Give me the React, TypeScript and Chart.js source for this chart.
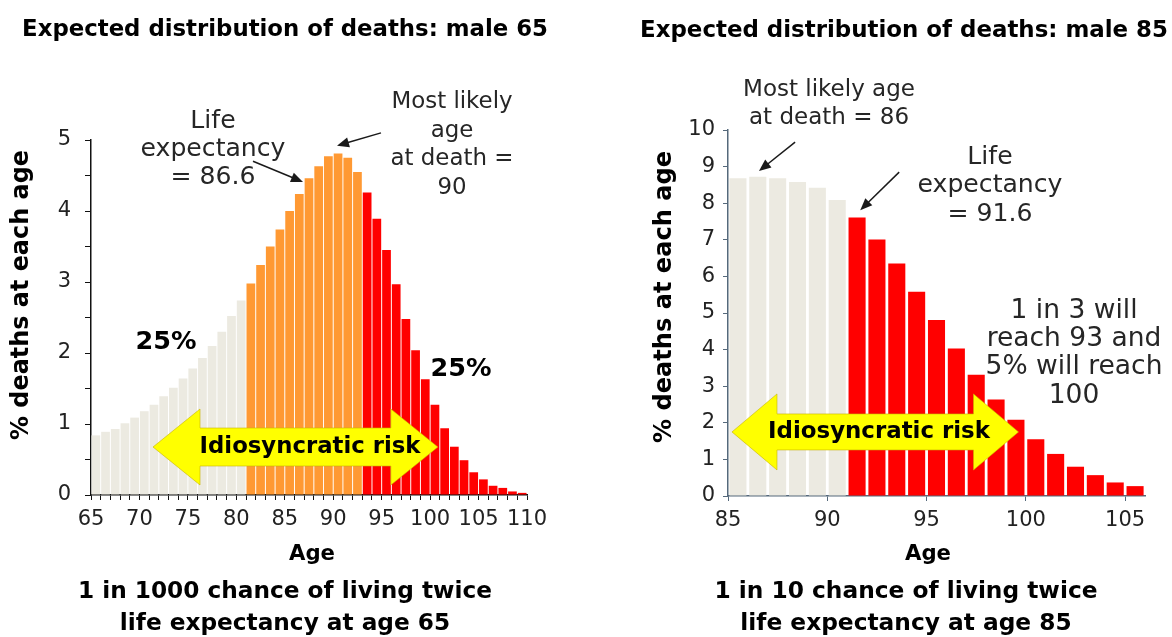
import React, { useEffect, useRef } from 'react';
import { Chart, registerables } from 'chart.js';
Chart.register(...registerables);

const FONT = '"DejaVu Sans", sans-serif';
const H = 637;

// ---------- Left chart: male 65 ----------
const leftAges = [65, 66, 67, 68, 69, 70, 71, 72, 73, 74, 75, 76, 77, 78, 79, 80, 81, 82, 83, 84, 85, 86, 87, 88, 89, 90, 91, 92, 93, 94, 95, 96, 97, 98, 99, 100, 101, 102, 103, 104, 105, 106, 107, 108, 109];
const leftDeaths = [0.84, 0.89, 0.93, 1.01, 1.09, 1.18, 1.27, 1.39, 1.51, 1.64, 1.78, 1.93, 2.1, 2.3, 2.52, 2.74, 2.98, 3.24, 3.5, 3.74, 4.0, 4.24, 4.46, 4.63, 4.77, 4.81, 4.75, 4.55, 4.26, 3.89, 3.45, 2.97, 2.48, 2.04, 1.63, 1.27, 0.94, 0.68, 0.49, 0.32, 0.22, 0.13, 0.1, 0.05, 0.03];
const leftAgeLabels = [65, 70, 75, 80, 85, 90, 95, 100, 105, 110];
const leftValueLabels = [0, 1, 2, 3, 4, 5];
const leftMiddleFromAge = 81;
const leftTopFromAge = 93;

// ---------- Right chart: male 85 ----------
const rightAges = [85, 86, 87, 88, 89, 90, 91, 92, 93, 94, 95, 96, 97, 98, 99, 100, 101, 102, 103, 104, 105];
const rightDeaths = [8.68, 8.72, 8.68, 8.58, 8.42, 8.09, 7.61, 7.01, 6.35, 5.58, 4.81, 4.03, 3.31, 2.64, 2.08, 1.55, 1.15, 0.8, 0.57, 0.37, 0.27];
const rightAgeLabels = [85, 90, 95, 100, 105];
const rightValueLabels = [0, 1, 2, 3, 4, 5, 6, 7, 8, 9, 10];
const rightTopFromAge = 91;

const GREY = '#ECEAE1';
const ORANGE = '#FF9933';
const RED = '#FF0000';

type Block = { lines: string[]; cx: number; cy: number; lh?: number; w: number; bold?: boolean; rot?: boolean; color?: string };
type Pointer = { from: [number, number]; to: [number, number] };
type Risk = { from: number; to: number; at: number; head: number; headHalf: number; shaftHalf: number; label: Block };

function drawBlock(ctx: CanvasRenderingContext2D, b: Block) {
  const wt = b.bold ? 'bold ' : '';
  ctx.font = `${wt}20px ${FONT}`;
  let widest = 0;
  for (const l of b.lines) widest = Math.max(widest, ctx.measureText(l).width);
  const size = (20 * b.w) / widest;
  ctx.font = `${wt}${size.toFixed(2)}px ${FONT}`;
  ctx.fillStyle = b.color || '#262626';
  ctx.textAlign = 'center';
  ctx.textBaseline = 'middle';
  ctx.save();
  ctx.translate(b.cx, b.cy);
  if (b.rot) ctx.rotate(-Math.PI / 2);
  b.lines.forEach((l, i) => ctx.fillText(l, 0, i * (b.lh || 0)));
  ctx.restore();
}

function drawPointer(ctx: CanvasRenderingContext2D, x0: number, y0: number, x1: number, y1: number) {
  const ang = Math.atan2(y1 - y0, x1 - x0);
  const hl = 12, hw = 5;
  ctx.save();
  ctx.strokeStyle = '#1a1a1a';
  ctx.fillStyle = '#1a1a1a';
  ctx.lineWidth = 1.5;
  ctx.beginPath();
  ctx.moveTo(x0, y0);
  ctx.lineTo(x1 - Math.cos(ang) * hl * 0.8, y1 - Math.sin(ang) * hl * 0.8);
  ctx.stroke();
  ctx.beginPath();
  ctx.moveTo(x1, y1);
  ctx.lineTo(x1 - Math.cos(ang) * hl - Math.sin(ang) * hw, y1 - Math.sin(ang) * hl + Math.cos(ang) * hw);
  ctx.lineTo(x1 - Math.cos(ang) * hl + Math.sin(ang) * hw, y1 - Math.sin(ang) * hl - Math.cos(ang) * hw);
  ctx.closePath();
  ctx.fill();
  ctx.restore();
}

function drawDoubleArrow(ctx: CanvasRenderingContext2D, x1: number, x2: number, yc: number, head: number, hh: number, sh: number) {
  ctx.save();
  ctx.beginPath();
  ctx.moveTo(x1, yc);
  ctx.lineTo(x1 + head, yc - hh);
  ctx.lineTo(x1 + head, yc - sh);
  ctx.lineTo(x2 - head, yc - sh);
  ctx.lineTo(x2 - head, yc - hh);
  ctx.lineTo(x2, yc);
  ctx.lineTo(x2 - head, yc + hh);
  ctx.lineTo(x2 - head, yc + sh);
  ctx.lineTo(x1 + head, yc + sh);
  ctx.lineTo(x1 + head, yc + hh);
  ctx.closePath();
  ctx.fillStyle = '#FFFF00';
  ctx.fill();
  ctx.strokeStyle = 'rgba(200,180,0,0.6)';
  ctx.lineWidth = 1;
  ctx.stroke();
  ctx.restore();
}

type Params = {
  offsetX: number;
  width: number;
  ages: number[];
  deaths: number[];
  color: (age: number) => string;
  xMin: number;
  xMax: number;
  xStep: number;
  xLabels: number[];
  xTickLen: number;
  yMax: number;
  yStep: number;
  yLabels: number[];
  yTickLen: number;
  yPad: number;
  axisColor: string;
  barPct: number;
  padTop: number;
  padRight: number;
  yWidth: number;
  xHeight: number;
  blocks: Block[];
  pointers: Pointer[];
  risk: Risk;
};

function makeConfig(p: Params): any {
  const plugin = {
    id: 'annot',
    afterDatasetsDraw(chart: any) {
      const ctx: CanvasRenderingContext2D = chart.ctx;
      const xs = chart.scales.x;
      const ys = chart.scales.y;
      const r = p.risk;
      drawDoubleArrow(ctx, xs.getPixelForValue(r.from), xs.getPixelForValue(r.to), ys.getPixelForValue(r.at), r.head, r.headHalf, r.shaftHalf);
      ctx.save();
      ctx.translate(-p.offsetX, 0);
      drawBlock(ctx, r.label);
      for (const b of p.blocks) drawBlock(ctx, b);
      ctx.restore();
      for (const pt of p.pointers) {
        drawPointer(ctx, xs.getPixelForValue(pt.from[0]), ys.getPixelForValue(pt.from[1]), xs.getPixelForValue(pt.to[0]), ys.getPixelForValue(pt.to[1]));
      }
    },
  };
  return {
    type: 'bar',
    data: {
      datasets: [
        {
          data: p.ages.map((a, i) => ({ x: a + 0.5, y: p.deaths[i] })),
          backgroundColor: p.ages.map((a) => p.color(a)),
          borderWidth: 0,
          categoryPercentage: 1,
          barPercentage: p.barPct,
        },
      ],
    },
    options: {
      responsive: false,
      maintainAspectRatio: false,
      animation: false,
      layout: { padding: { left: 0, top: p.padTop, right: p.padRight, bottom: 0 } },
      plugins: { legend: { display: false }, tooltip: { enabled: false }, title: { display: false } },
      scales: {
        x: {
          type: 'linear',
          min: p.xMin,
          max: p.xMax,
          offset: false,
          ticks: {
            stepSize: p.xStep,
            autoSkip: false,
            maxRotation: 0,
            minRotation: 0,
            includeBounds: false,
            padding: 7,
            color: '#222',
            font: { family: FONT, size: 21 },
            callback: (v: number) => (p.xLabels.includes(v) ? String(v) : ''),
          },
          grid: { offset: false, drawOnChartArea: false, drawTicks: true, tickLength: p.xTickLen, color: p.axisColor, lineWidth: 1 },
          border: { display: true, color: p.axisColor, width: 1.5 },
          afterFit: (s: any) => {
            s.height = p.xHeight;
          },
        },
        y: {
          type: 'linear',
          min: 0,
          max: p.yMax,
          ticks: {
            stepSize: p.yStep,
            padding: p.yPad,
            color: '#222',
            font: { family: FONT, size: 21 },
            callback: (v: number) => (p.yLabels.includes(v) ? String(v) : ''),
          },
          grid: { drawOnChartArea: false, drawTicks: true, tickLength: p.yTickLen, color: p.axisColor, lineWidth: 1 },
          border: { display: true, color: p.axisColor, width: 1.5 },
          afterFit: (s: any) => {
            s.width = p.yWidth;
          },
        },
      },
    },
    plugins: [plugin],
  };
}

const leftParams: Params = {
  offsetX: 0,
  width: 590,
  ages: leftAges,
  deaths: leftDeaths,
  color: (a) => (a >= leftTopFromAge ? RED : a >= leftMiddleFromAge ? ORANGE : GREY),
  xMin: 65,
  xMax: 110,
  xStep: 1,
  xLabels: leftAgeLabels,
  xTickLen: 5,
  yMax: 5,
  yStep: 0.5,
  yLabels: leftValueLabels,
  yTickLen: 6,
  yPad: 14,
  axisColor: '#111',
  barPct: 0.9,
  padTop: 140,
  padRight: 590 - 527,
  yWidth: 91,
  xHeight: H - 495,
  blocks: [
    { lines: ['Expected distribution of deaths: male 65'], cx: 285, cy: 30, w: 526, bold: true, color: '#000' },
    { lines: ['% deaths at each age'], cx: 22, cy: 295, w: 290, bold: true, rot: true, color: '#000' },
    { lines: ['Age'], cx: 312, cy: 554, w: 46, bold: true, color: '#000' },
    { lines: ['1 in 1000 chance of living twice', 'life expectancy at age 65'], cx: 285, cy: 592, lh: 32, w: 414, bold: true, color: '#000' },
    { lines: ['Life', 'expectancy', '= 86.6'], cx: 213, cy: 121, lh: 28, w: 145 },
    { lines: ['Most likely', 'age', 'at death =', '90'], cx: 452, cy: 102, lh: 28.7, w: 123 },
    { lines: ['25%'], cx: 166, cy: 342, w: 61, bold: true, color: '#000' },
    { lines: ['25%'], cx: 461, cy: 369, w: 61, bold: true, color: '#000' },
  ],
  pointers: [
    { from: [81.72, 4.7], to: [86.88, 4.41] },
    { from: [94.93, 5.1], to: [90.39, 4.92] },
  ],
  risk: {
    from: 71.4,
    to: 100.8,
    at: 0.676,
    head: 47,
    headHalf: 38,
    shaftHalf: 19,
    label: { lines: ['Idiosyncratic risk'], cx: 310, cy: 447, w: 221, bold: true, color: '#000' },
  },
};

const rightParams: Params = {
  offsetX: 590,
  width: 582,
  ages: rightAges,
  deaths: rightDeaths,
  color: (a) => (a >= rightTopFromAge ? RED : GREY),
  xMin: 85,
  xMax: 106,
  xStep: 5,
  xLabels: rightAgeLabels,
  xTickLen: 5,
  yMax: 10,
  yStep: 1,
  yLabels: rightValueLabels,
  yTickLen: 5,
  yPad: 8,
  axisColor: '#55697B',
  barPct: 0.86,
  padTop: 130,
  padRight: 582 - (1145 - 590),
  yWidth: 728 - 590,
  xHeight: H - 496,
  blocks: [
    { lines: ['Expected distribution of deaths: male 85'], cx: 904, cy: 31, w: 528, bold: true, color: '#000' },
    { lines: ['% deaths at each age'], cx: 665, cy: 297, w: 292, bold: true, rot: true, color: '#000' },
    { lines: ['Age'], cx: 928, cy: 554, w: 46, bold: true, color: '#000' },
    { lines: ['1 in 10 chance of living twice', 'life expectancy at age 85'], cx: 906, cy: 592, lh: 32, w: 383, bold: true, color: '#000' },
    { lines: ['Most likely age', 'at death = 86'], cx: 829, cy: 90, lh: 28, w: 172 },
    { lines: ['Life', 'expectancy', '= 91.6'], cx: 990, cy: 157, lh: 28.5, w: 145 },
    { lines: ['1 in 3 will', 'reach 93 and', '5% will reach', '100'], cx: 1074, cy: 311, lh: 28.3, w: 177 },
  ],
  pointers: [
    { from: [88.38, 9.67], to: [86.56, 8.88] },
    { from: [93.62, 8.85], to: [91.66, 7.81] },
  ],
  risk: {
    from: 85.2,
    to: 99.63,
    at: 1.75,
    head: 45,
    headHalf: 38,
    shaftHalf: 18,
    label: { lines: ['Idiosyncratic risk'], cx: 879, cy: 432, w: 222, bold: true, color: '#000' },
  },
};

function ChartCanvas({ params }: { params: Params }) {
  const ref = useRef<HTMLCanvasElement>(null);
  useEffect(() => {
    const chart = new Chart(ref.current as HTMLCanvasElement, makeConfig(params));
    return () => chart.destroy();
  }, [params]);
  return (
    <canvas
      ref={ref}
      width={params.width}
      height={H}
      style={{ position: 'absolute', left: params.offsetX, top: 0, width: params.width, height: H }}
    />
  );
}

export default function App() {
  return (
    <div style={{ position: 'absolute', left: 0, top: 0, width: 1172, height: H, background: '#fff', overflow: 'hidden' }}>
      <ChartCanvas params={leftParams} />
      <ChartCanvas params={rightParams} />
    </div>
  );
}
